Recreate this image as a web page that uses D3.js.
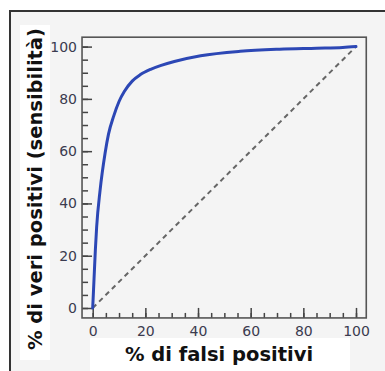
<!DOCTYPE html>
<meta charset="utf-8">
<style>
body { margin: 0; background: #fff; }
.tick text { font: 14px "DejaVu Sans", sans-serif; fill: #3b3b4f; }
.axis path { display: none; }
.axis line { stroke: #444; stroke-width: 1.5; }
.label { font: bold 19.5px "DejaVu Sans", sans-serif; fill: #111; }
</style>
<body>
<div id="chart"></div>
<script src="https://cdn.jsdelivr.net/npm/d3@7"></script>
<script>
var width = 385,
    height = 371;

// ROC curve (% falsi positivi -> % veri positivi)
var fpr = [0, 0.5, 1, 1.5, 2.8, 4.7, 6, 8, 10, 12, 15, 18, 22, 26, 31, 41, 56, 71, 85, 95, 100];
var tpr = [0, 11, 22, 31, 45, 59.2, 66.5, 73.5, 79, 82.8, 86.8, 89.2, 91.3, 92.8, 94.3, 96.5, 98.2, 99, 99.4, 99.7, 100];
var majorTicks = [0, 20, 40, 60, 80, 100];
var minorTicks = d3.range(0, 101, 5);
var xTitle = "% di falsi positivi";
var yTitle = "% di veri positivi (sensibilità)";

var x = d3.scaleLinear().domain([0, 100]).range([92.7, 356]);
var y = d3.scaleLinear().domain([0, 100]).range([308, 46.6]);

var x0 = x(-4.05), x1 = x(103.9),
    y0 = y(-3.8), y1 = y(103.6);

var svg = d3.select("#chart").append("svg")
    .attr("width", width)
    .attr("height", height);

// outer frame
svg.append("rect")
    .attr("x", 10).attr("y", 11)
    .attr("width", 390).attr("height", 380)
    .attr("fill", "#f4f4f4")
    .attr("stroke", "#333")
    .attr("stroke-width", 2);

// white strips behind the titles
svg.append("rect")
    .attr("x", 20).attr("y", 25).attr("width", 30).attr("height", 335)
    .attr("fill", "#fff");
svg.append("rect")
    .attr("x", 90).attr("y", 338).attr("width", 260).attr("height", 40)
    .attr("fill", "#fff");

// minor ticks
svg.append("g")
    .attr("class", "axis")
    .attr("transform", "translate(0," + y0 + ")")
    .call(d3.axisBottom(x).tickValues(minorTicks).tickSize(-5).tickFormat(""));
svg.append("g")
    .attr("class", "axis")
    .attr("transform", "translate(" + x0 + ",0)")
    .call(d3.axisLeft(y).tickValues(minorTicks).tickSize(-6).tickFormat(""));

// major ticks with labels
svg.append("g")
    .attr("class", "axis")
    .attr("transform", "translate(0," + y0 + ")")
    .call(d3.axisBottom(x).tickValues(majorTicks).tickSize(-10).tickPadding(8));
svg.append("g")
    .attr("class", "axis")
    .attr("transform", "translate(" + x0 + ",0)")
    .call(d3.axisLeft(y).tickValues(majorTicks).tickSize(-10).tickPadding(5));

// plot box
svg.append("rect")
    .attr("x", x0).attr("y", y1)
    .attr("width", x1 - x0).attr("height", y0 - y1)
    .attr("fill", "none")
    .attr("stroke", "#555")
    .attr("stroke-width", 1.6);

// chance diagonal
svg.append("line")
    .attr("x1", x(0)).attr("y1", y(0))
    .attr("x2", x(100)).attr("y2", y(100))
    .attr("stroke", "#666")
    .attr("stroke-width", 2)
    .attr("stroke-dasharray", "5,4");

var line = d3.line()
    .x(function(d) { return x(d[0]); })
    .y(function(d) { return y(d[1]); })
    .curve(d3.curveMonotoneX);

svg.append("path")
    .datum(d3.zip(fpr, tpr))
    .attr("d", line)
    .attr("fill", "none")
    .attr("stroke", "#2c47b5")
    .attr("stroke-width", 3)
    .attr("stroke-linecap", "round");

svg.append("text")
    .attr("class", "label")
    .attr("x", 219).attr("y", 360.5)
    .attr("text-anchor", "middle")
    .text(xTitle);

svg.append("text")
    .attr("class", "label")
    .attr("transform", "translate(41.5,189) rotate(-90)")
    .attr("text-anchor", "middle")
    .text(yTitle);
</script>
</body>
